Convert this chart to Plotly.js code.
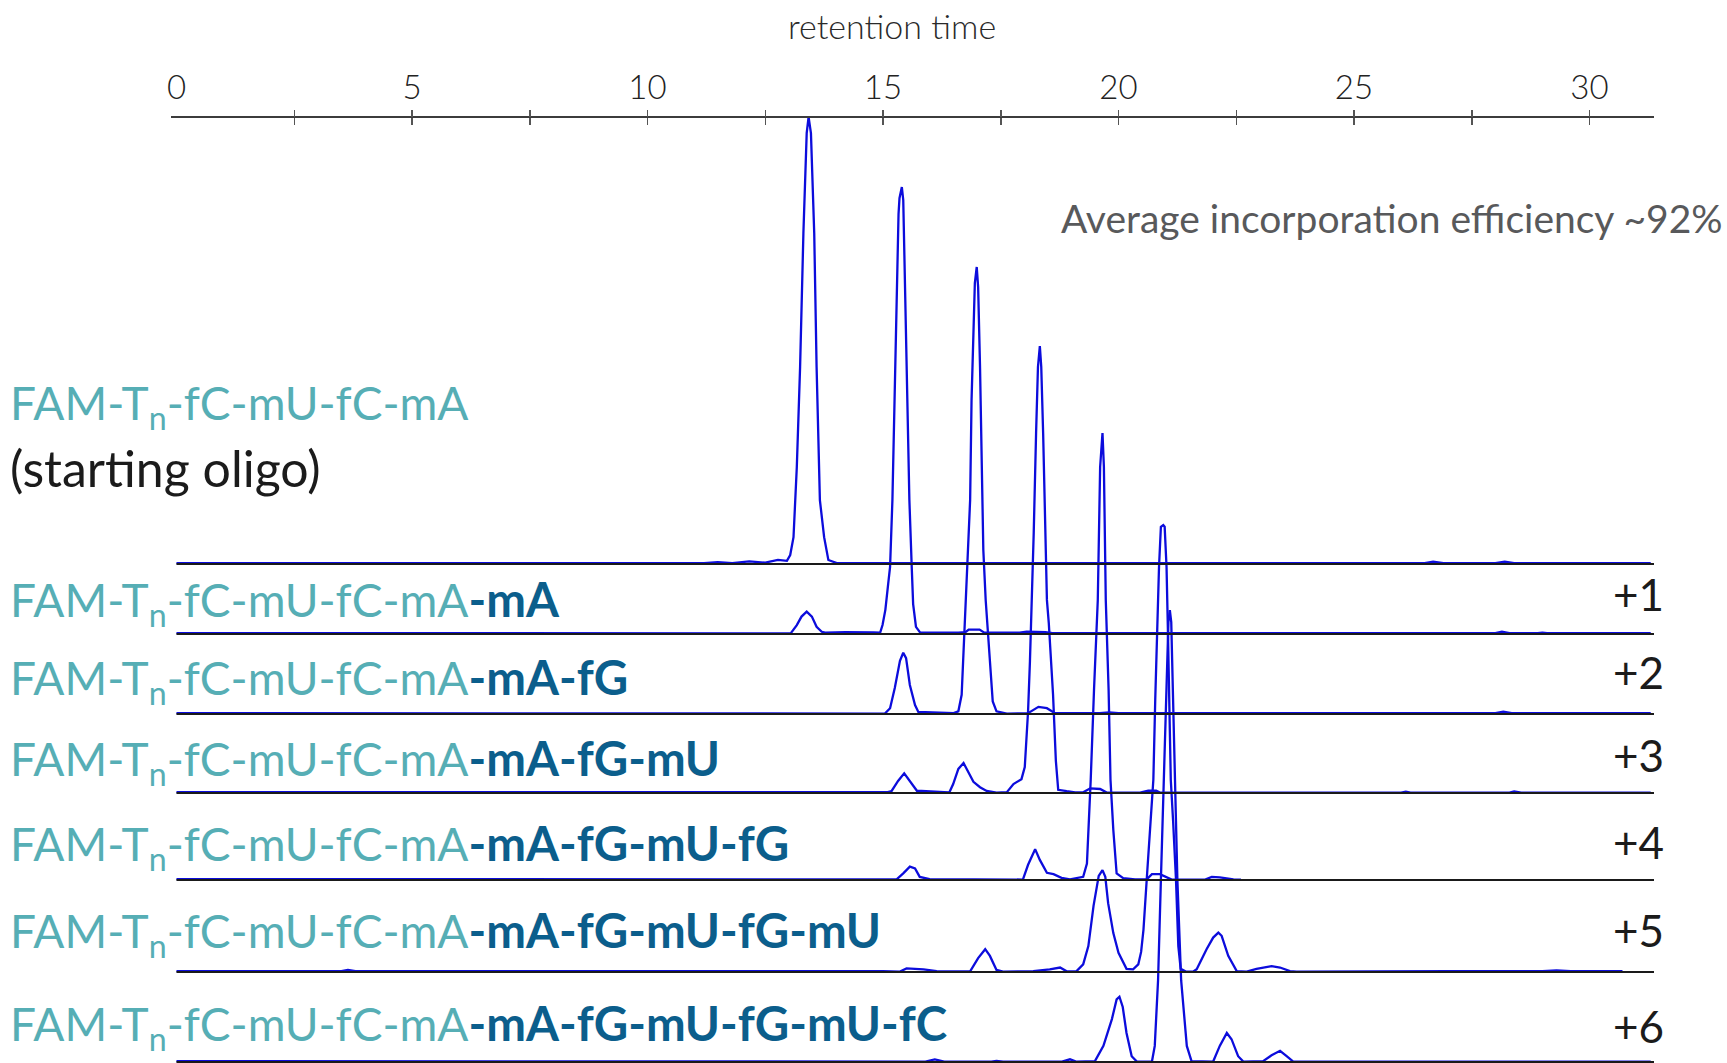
<!DOCTYPE html>
<html>
<head>
<meta charset="utf-8">
<script src="https://cdn.plot.ly/plotly-3.0.1.min.js"></script>
<style>
  html, body { margin: 0; padding: 0; background: #ffffff; overflow: hidden; }
  #chart { width: 1727px; height: 1063px; }
</style>
</head>
<body>
<div id="chart"></div>
<script>
// ---------------- DATA ----------------
// Retention time in minutes, signal as % of each run's main peak.

// Row labels
const rowPrefix = 'FAM-T<sub>n</sub>-fC-mU-fC-mA';
const rowSuffix = ['', '-mA', '-mA-fG', '-mA-fG-mU', '-mA-fG-mU-fG', '-mA-fG-mU-fG-mU', '-mA-fG-mU-fG-mU-fC'];
const rowTag = ['', '+1', '+2', '+3', '+4', '+5', '+6'];
const startNote = '(starting oligo)';
const efficiencyNote = 'Average incorporation efficiency ~92%';
const axisTitle = 'retention time';

// x-axis ticks
const labelValues = [0, 5, 10, 15, 20, 25, 30];
const labelTexts = ['0', '5', '10', '15', '20', '25', '30'];
const tickMarks = [2.5, 5, 7.5, 10, 12.5, 15, 17.5, 20, 22.5, 25, 27.5, 30];

// Starting oligo
const tStart = [0.0, 11.2, 11.49, 11.8, 12.16, 12.5, 12.77, 12.96, 13.03, 13.10, 13.17, 13.24, 13.31, 13.38, 13.42, 13.47, 13.54, 13.59, 13.66, 13.75, 13.84, 14.02, 20.0, 26.5, 26.68, 26.9, 28.0, 28.2, 28.4, 31.3];
const iStart = [0.2, 0.2, 0.4, 0.2, 0.6, 0.3, 0.9, 0.7, 2.0, 6.0, 21.7, 44.1, 74.0, 96.4, 100, 96.4, 74.0, 44.1, 14.3, 6.0, 0.9, 0.2, 0.2, 0.2, 0.5, 0.2, 0.2, 0.5, 0.2, 0.2];

// +1
const tPlus1 = [0.0, 12.5, 13.04, 13.17, 13.27, 13.38, 13.49, 13.59, 13.70, 13.77, 14.2, 14.8, 14.94, 14.99, 15.05, 15.11, 15.15, 15.20, 15.24, 15.29, 15.33, 15.35, 15.40, 15.43, 15.47, 15.52, 15.56, 15.61, 15.64, 15.70, 15.79, 16.6, 16.75, 16.82, 16.9, 17.05, 17.15, 17.9, 18.05, 18.2, 18.45, 18.6, 28.0, 28.14, 28.3, 28.9, 29.0, 29.1, 31.3];
const iPlus1 = [0.2, 0.2, 0.15, 2.0, 3.9, 5.0, 3.9, 1.6, 0.5, 0.3, 0.4, 0.35, 0.3, 2.0, 5.4, 11.2, 15.0, 30.0, 52.3, 74.7, 94.0, 97.5, 100, 97.1, 74.7, 52.3, 30.0, 15.0, 6.7, 1.6, 0.3, 0.3, 0.4, 1.0, 1.05, 1.0, 0.3, 0.3, 0.5, 0.5, 0.4, 0.2, 0.2, 0.5, 0.2, 0.2, 0.3, 0.2, 0.2];

// +2
const tPlus2 = [0.0, 14.9, 15.04, 15.15, 15.25, 15.36, 15.43, 15.49, 15.57, 15.68, 15.75, 16.5, 16.60, 16.67, 16.72, 16.77, 16.81, 16.85, 16.88, 16.92, 16.95, 16.99, 17.02, 17.06, 17.09, 17.13, 17.18, 17.27, 17.33, 17.41, 17.63, 18.08, 18.19, 18.30, 18.48, 18.65, 19.6, 19.8, 20.0, 28.0, 28.17, 28.35, 31.3];
const iPlus2 = [0.2, 0.2, 0.1, 1.3, 5.8, 11.9, 13.7, 12.5, 6.5, 2.0, 0.45, 0.2, 0.6, 4.3, 15.4, 29.1, 35.8, 47.9, 70.2, 85.2, 96.4, 100, 95.5, 77.6, 55.3, 36.7, 25.5, 11.6, 2.8, 0.6, 0.1, 0.2, 0.9, 1.6, 1.3, 0.2, 0.2, 0.35, 0.2, 0.2, 0.5, 0.2, 0.2];

// +3
const tPlus3 = [0.0, 15.1, 15.18, 15.32, 15.45, 15.57, 15.72, 16.3, 16.41, 16.49, 16.60, 16.71, 16.81, 16.92, 17.06, 17.20, 17.41, 17.63, 17.77, 17.94, 18.01, 18.08, 18.12, 18.16, 18.20, 18.25, 18.29, 18.33, 18.36, 18.40, 18.44, 18.48, 18.52, 18.57, 18.61, 18.67, 18.72, 18.90, 19.08, 19.25, 19.40, 19.61, 19.75, 20.46, 20.63, 20.80, 20.88, 26.0, 26.1, 26.2, 28.3, 28.4, 28.55, 31.3];
const iPlus3 = [0.2, 0.2, 0.4, 2.7, 4.4, 2.7, 0.5, 0.2, 0.15, 2.0, 5.4, 6.7, 4.7, 2.5, 1.3, 0.45, 0.1, 0.2, 2.0, 3.1, 5.8, 18.3, 29.5, 42.5, 58.2, 80.5, 95.3, 100, 95.3, 80.5, 58.2, 43.2, 38.0, 29.0, 22.1, 7.2, 0.7, 0.4, 0.15, 0.15, 1.05, 0.9, 0.1, 0.1, 0.5, 0.5, 0.1, 0.1, 0.3, 0.1, 0.1, 0.35, 0.1, 0.1];

// +4
const tPlus4 = [0.0, 15.2, 15.29, 15.43, 15.57, 15.68, 15.78, 15.99, 16.5, 16.7, 17.3, 17.5, 17.97, 18.08, 18.23, 18.33, 18.48, 18.62, 18.79, 18.97, 19.25, 19.33, 19.38, 19.41, 19.48, 19.56, 19.61, 19.66, 19.69, 19.73, 19.79, 19.83, 19.89, 19.96, 20.10, 20.35, 20.60, 20.71, 20.88, 21.02, 21.13, 21.84, 21.98, 22.15, 22.44, 22.6];
const iPlus4 = [0.2, 0.2, 0.15, 1.5, 3.0, 2.6, 0.7, 0.2, 0.2, 0.25, 0.25, 0.2, 0.1, 3.4, 6.9, 4.5, 1.6, 1.3, 0.5, 0.15, 0.7, 3.7, 14.9, 22.4, 42.5, 62.6, 92.4, 100, 92.4, 62.6, 42.5, 22.4, 11.2, 1.5, 0.4, 0.15, 0.15, 1.3, 1.3, 0.7, 0.1, 0.1, 0.7, 0.6, 0.15, 0.1];

// +5
const tPlus5 = [0.0, 3.5, 3.64, 3.8, 15.0, 15.36, 15.50, 15.86, 16.14, 16.85, 17.02, 17.17, 17.27, 17.41, 17.55, 18.19, 18.54, 18.76, 18.90, 19.11, 19.25, 19.36, 19.47, 19.58, 19.66, 19.72, 19.78, 19.89, 20.00, 20.17, 20.31, 20.42, 20.48, 20.53, 20.60, 20.67, 20.74, 20.78, 20.82, 20.86, 20.90, 20.95, 20.98, 21.02, 21.05, 21.08, 21.11, 21.16, 21.22, 21.27, 21.32, 21.43, 21.59, 21.66, 21.87, 22.01, 22.12, 22.19, 22.33, 22.51, 22.72, 22.93, 23.25, 23.43, 23.64, 23.78, 25.5, 26.7, 27.0, 29.0, 29.3, 29.6, 30.7];
const iPlus5 = [0.2, 0.2, 0.45, 0.2, 0.2, 0.1, 0.8, 0.6, 0.2, 0.15, 3.1, 5.1, 3.6, 0.45, 0.1, 0.2, 0.6, 1.0, 0.15, 0.2, 1.7, 5.8, 14.8, 21.5, 22.8, 21.3, 15.4, 8.7, 4.3, 0.7, 0.6, 1.7, 4.5, 9.4, 20.8, 32.0, 43.0, 60.9, 75.8, 90.6, 99.6, 100, 99.6, 90.6, 75.8, 60.9, 43.0, 33.6, 20.8, 5.8, 0.7, 0.1, 0.1, 0.6, 5.1, 7.7, 8.8, 8.1, 3.6, 0.2, 0.1, 0.7, 1.3, 1.0, 0.2, 0.1, 0.2, 0.35, 0.2, 0.2, 0.35, 0.2, 0.2];

// +6
const tPlus6 = [0.0, 15.9, 16.1, 16.3, 17.3, 17.41, 17.55, 18.8, 18.97, 19.1, 19.50, 19.68, 19.86, 19.96, 20.02, 20.09, 20.17, 20.28, 20.39, 20.71, 20.77, 20.84, 20.90, 20.96, 21.02, 21.06, 21.09, 21.12, 21.16, 21.20, 21.25, 21.33, 21.45, 21.55, 22.01, 22.15, 22.30, 22.40, 22.54, 22.65, 23.07, 23.25, 23.43, 23.57, 23.71, 31.3];
const iPlus6 = [0.2, 0.1, 0.6, 0.1, 0.1, 0.25, 0.1, 0.1, 0.6, 0.1, 0.2, 3.6, 9.6, 14.0, 14.6, 12.3, 6.5, 1.3, 0.1, 0.1, 3.6, 18.3, 40.7, 61.7, 82.8, 98.4, 101.1, 98.4, 80.5, 60.4, 40.7, 18.3, 3.6, 0.2, 0.1, 3.6, 6.5, 5.1, 1.3, 0.1, 0.2, 1.5, 2.5, 1.3, 0.1, 0.1];

// ---------------- LAYOUT CONSTANTS (not data) ----------------
const W = 1727, H = 1063;
const PLOT_TOP = 118;              // px, where the time axis sits
const AXIS_LEFT = 171, AXIS_RIGHT = 1654;
const T0_PX = 176.5, PX_PER_MIN = 47.1;
const ROW_BASE = [564, 634, 714, 793, 880, 972, 1062]; // px of each run's baseline (stacking)
const PX_PER_PCT = 4.47;           // vertical scale of a run
const BASE_END = 31.37;

const LABEL_FONT = 'Lato, "Open Sans", sans-serif';
const TEAL = '#56aeb5';
const NAVY = '#0b5e8c';
const TRACE_BLUE = '#0c0cdc';

const runs = [
  [tStart, iStart], [tPlus1, iPlus1], [tPlus2, iPlus2], [tPlus3, iPlus3],
  [tPlus4, iPlus4], [tPlus5, iPlus5], [tPlus6, iPlus6]
];

const traces = [];
runs.forEach(function (r, k) {
  traces.push({
    x: r[0],
    y: r[1].map(function (v) { return -ROW_BASE[k] + v * PX_PER_PCT; }),
    type: 'scatter', mode: 'lines',
    line: { color: TRACE_BLUE, width: 2.3 },
    hoverinfo: 'skip', showlegend: false
  });
});
ROW_BASE.forEach(function (b) {
  traces.push({
    x: [0, BASE_END], y: [-b, -b],
    type: 'scatter', mode: 'lines',
    line: { color: '#1a1a1a', width: 2 },
    hoverinfo: 'skip', showlegend: false
  });
});
// carriers for the two tick-mark axes
traces.push({ x: [0], y: [-5000], xaxis: 'x2', yaxis: 'y', type: 'scatter', mode: 'lines', hoverinfo: 'skip', showlegend: false });
traces.push({ x: [0], y: [-5000], xaxis: 'x3', yaxis: 'y', type: 'scatter', mode: 'lines', hoverinfo: 'skip', showlegend: false });

const xr = [(AXIS_LEFT - T0_PX) / PX_PER_MIN, (AXIS_RIGHT - T0_PX) / PX_PER_MIN];
const xdom = [AXIS_LEFT / W, AXIS_RIGHT / W];

function px(x, y) { return { x: x / W, y: 1 - y / H }; }
function note(xp, yp, text, anchor, font) {
  const p = px(xp, yp);
  return { xref: 'paper', yref: 'paper', x: p.x, y: p.y, text: text, showarrow: false,
           xanchor: anchor, yanchor: 'middle', align: anchor, font: font };
}

const annotations = [];
const seqCenters = [406, 602, 680, 761, 846, 933, 1026];
const tagCenters = [0, 594, 672, 755, 842, 930, 1026];
rowSuffix.forEach(function (suf, k) {
  let txt = rowPrefix;
  if (suf) txt += '<span style="color:' + NAVY + ';font-size:47.5px"><b>' + suf + '</b></span>';
  annotations.push(note(8, seqCenters[k], txt, 'left', { family: LABEL_FONT, size: 46, color: TEAL }));
  if (rowTag[k]) annotations.push(note(1666, tagCenters[k], rowTag[k], 'right', { family: LABEL_FONT, size: 44, color: '#1b1b1b' }));
});
annotations.push(note(8, 468, startNote, 'left', { family: LABEL_FONT, size: 50, color: '#1b1b1b' }));
annotations.push(note(1059, 218, efficiencyNote, 'left', { family: LABEL_FONT, size: 39, color: '#58595b' }));
annotations.push(note(892, 26, axisTitle, 'center', { family: LABEL_FONT, size: 34, weight: 300, color: '#2a2a2a' }));

const tickAxis = function (dir) {
  return {
    domain: xdom, range: xr, side: 'top', anchor: 'y', overlaying: 'x',
    showline: false, showgrid: false, zeroline: false,
    tickmode: 'array', tickvals: tickMarks, showticklabels: false,
    ticks: dir, ticklen: 7, tickwidth: 1.5, tickcolor: '#555555',
    fixedrange: true
  };
};

const layout = {
  width: W, height: H,
  margin: { l: 0, r: 0, t: 0, b: 0, pad: 0 },
  paper_bgcolor: '#ffffff', plot_bgcolor: '#ffffff',
  showlegend: false,
  xaxis: {
    domain: xdom, range: xr, side: 'top', anchor: 'y',
    showline: true, linecolor: '#3c3c3c', linewidth: 2,
    showgrid: false, zeroline: false,
    tickmode: 'array', tickvals: labelValues, ticktext: labelTexts,
    ticks: '', ticklabelstandoff: 4,
    tickfont: { family: LABEL_FONT, size: 33, weight: 300, color: '#222222' },
    fixedrange: true
  },
  xaxis2: tickAxis('inside'),
  xaxis3: tickAxis('outside'),
  yaxis: {
    domain: [0, 1 - PLOT_TOP / H], range: [-H, -PLOT_TOP],
    visible: false, showgrid: false, zeroline: false, fixedrange: true
  },
  annotations: annotations
};

Plotly.newPlot('chart', traces, layout, { staticPlot: true, displayModeBar: false });
</script>
</body>
</html>
